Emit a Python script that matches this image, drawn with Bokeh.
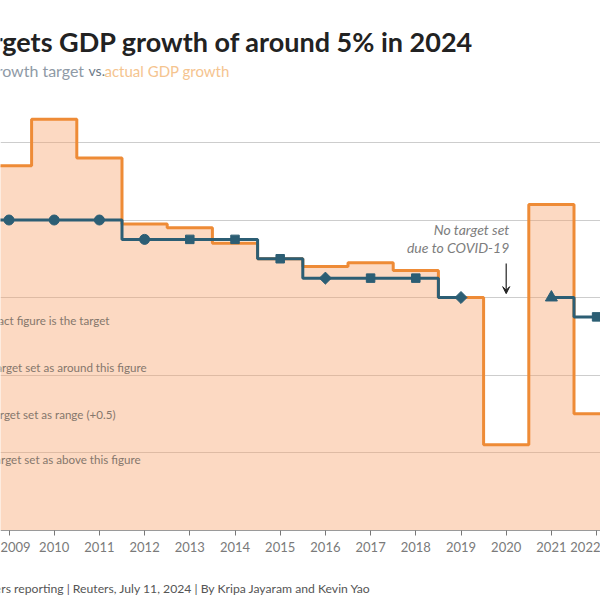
import math
from bokeh.plotting import figure
from bokeh.models import Label, Arrow, VeeHead, FixedTicker, Range1d, LinearAxis
from bokeh.embed import file_html
from bokeh.resources import INLINE

# ---- data ----
years = [2008, 2009, 2010, 2011, 2012, 2013, 2014, 2015, 2016, 2017, 2018, 2019, 2020, 2021, 2022, 2023, 2024]
actual = [9.7, 9.4, 10.6, 9.6, 7.9, 7.8, 7.4, 7.0, 6.8, 6.9, 6.7, 6.0, 2.2, 8.4, 3.0, 5.2, None]
target = [8.0, 8.0, 8.0, 8.0, 7.5, 7.5, 7.5, 7.0, 6.5, 6.5, 6.5, 6.0, None, 6.0, 5.5, 5.0, 5.0]
target_type = ["exact", "exact", "exact", "exact", "exact", "around", "around", "around", "range",
               "around", "around", "range", None, "above", "around", "around", "around"]
tick_years = [2009, 2010, 2011, 2012, 2013, 2014, 2015, 2016, 2017, 2018, 2019, 2020, 2021, 2022]
grid_values = [2, 4, 6, 8, 10]

title = "China targets GDP growth of around 5% in 2024"
sub_a = "China's GDP growth target"
sub_b = "vs."
sub_c = "actual GDP growth"
legend_texts = ["Exact figure is the target", "Target set as around this figure",
                "Target set as range (+0.5)", "Target set as above this figure"]
note_lines = ["No target set", "due to COVID-19"]
source = "Source: Reuters reporting | Reuters, July 11, 2024 | By Kripa Jayaram and Kevin Yao"

BLUE = "#2c5e74"
ORANGE = "#ee8b36"
FONT = "Lato"

W, H = 600, 600
PX_PER_YEAR = 45.2
PX_PER_UNIT = 38.75
ZERO_Y = 529.5  # canvas row of the 0 baseline
x0 = 2009 - 8.5 / PX_PER_YEAR
x1 = x0 + W / PX_PER_YEAR
y0 = -(H - ZERO_Y) / PX_PER_UNIT
y1 = ZERO_Y / PX_PER_UNIT

p = figure(width=W, height=H, x_range=Range1d(x0, x1), y_range=Range1d(y0, y1),
           min_border=0, x_axis_location=None, y_axis_location=None,
           toolbar_location=None, output_backend="svg")
p.outline_line_color = None
p.background_fill_color = "white"
p.border_fill_color = "white"
p.xgrid.visible = False
p.ygrid.ticker = FixedTicker(ticks=grid_values)
p.ygrid.grid_line_color = "#cdcdcd"
p.ygrid.grid_line_width = 1

# actual growth: step outline spanning each full year, filled below
ax, ay = [], []
for yr, v in zip(years, actual):
    if v is None:
        continue
    ax += [yr - 0.5, yr + 0.5]
    ay += [v, v]
p.varea(x=ax, y1=[0] * len(ax), y2=ay, fill_color="#f7a066", fill_alpha=0.4)
p.line(ax, ay, line_color=ORANGE, line_width=3)

# target: step line (split at missing years)
segs, cur = [], []
for yr, v in zip(years, target):
    if v is None:
        if cur:
            segs.append(cur)
        cur = []
    else:
        cur.append((yr, v))
if cur:
    segs.append(cur)
for s in segs:
    p.step([a for a, _ in s], [b for _, b in s], mode="center", line_color=BLUE, line_width=3)

styles = {"exact": ("circle", 10, 0.0), "around": ("square", 8.5, 0.0),
          "range": ("square", 8.5, math.pi / 4), "above": ("triangle", 12, 0.0)}
for kind, (mk, sz, ang) in styles.items():
    xs = [yr for yr, v, t in zip(years, target, target_type) if t == kind]
    ys = [v for yr, v, t in zip(years, target, target_type) if t == kind]
    p.scatter(xs, ys, marker=mk, size=sz, angle=ang, color=BLUE)

# x axis drawn at the 0 baseline inside the frame
xa = LinearAxis(fixed_location=0, ticker=FixedTicker(ticks=tick_years))
xa.axis_line_color = "#9a9a9a"
xa.major_tick_line_color = "#777777"
xa.major_tick_out = 5
xa.major_tick_in = 0
xa.minor_tick_line_color = None
xa.major_label_standoff = 7
xa.major_label_text_font = FONT
xa.major_label_text_font_size = "13px"
xa.major_label_text_color = "#7a7a7a"
p.add_layout(xa, "below")


def lab(text, x, y_canvas, align, baseline, size, color, style="normal"):
    p.add_layout(Label(x=x, y=H - y_canvas, x_units="screen", y_units="screen", text=text,
                       text_align=align, text_baseline=baseline, text_font=FONT,
                       text_font_style=style, text_font_size=size, text_color=color))


# titles
lab(title, 473, 41, "right", "alphabetic", "27px", "#222222", "bold")
lab(sub_a, 84, 70, "right", "alphabetic", "16px", "#8f9aa6")
lab(sub_b, 88, 70, "left", "alphabetic", "14px", "#6d7b88")
lab(sub_c, 104, 70, "left", "alphabetic", "15px", "#f5c48f")

# legend texts (marker keys lie beyond the left edge)
legend_right = [109, 146, 115, 140]
legend_y = [320, 367, 414, 459]
for t, xr, yc in zip(legend_texts, legend_right, legend_y):
    lab(t, xr, yc, "right", "middle", "11.6px", "#85776c")

# COVID note
p.add_layout(Label(x=2020.07, y=7.75, text=note_lines[0], text_align="right", text_baseline="middle",
                   text_font=FONT, text_font_style="italic", text_font_size="14px", text_color="#7d7d7d"))
p.add_layout(Label(x=2020.07, y=7.29, text=note_lines[1], text_align="right", text_baseline="middle",
                   text_font=FONT, text_font_style="italic", text_font_size="14px", text_color="#7d7d7d"))
p.add_layout(Arrow(x_start=2020, y_start=6.88, x_end=2020, y_end=6.1, line_color="#222222", line_width=1.2,
                   end=VeeHead(size=7, line_color="#222222", fill_color="#222222")))

# source line
lab(source, 371, 588, "right", "middle", "12.2px", "#555555")

open("out.html", "w").write(file_html(p, INLINE))
